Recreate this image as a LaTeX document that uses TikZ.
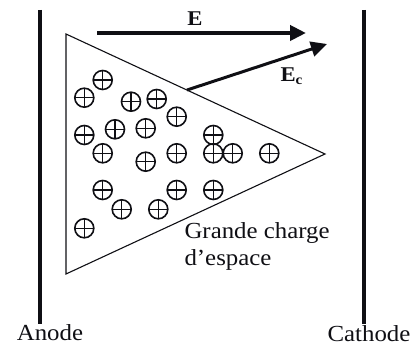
\documentclass[tikz,border=0pt]{standalone}
\usepackage{fontspec}
\setmainfont{Liberation Serif}[FakeStretch=1.08]
\usetikzlibrary{arrows.meta,calc}
\definecolor{ink}{RGB}{15,15,20}

\begin{document}
\begin{tikzpicture}[x=1pt,y=-1pt,line width=1.1pt,
  charge/.style={circle,draw=ink,line width=1.6pt,minimum size=19pt,inner sep=0pt,
    path picture={\draw[ink,line width=1.5pt]
      (path picture bounding box.north) -- (path picture bounding box.south)
      (path picture bounding box.west) -- (path picture bounding box.east);}},
  field/.style={ink,-{Triangle[length=16pt,width=15pt]}},
  lbl/.style={font=\fontsize{23}{27}\selectfont,text=ink,inner sep=0pt}]
  \useasboundingbox (0,0) rectangle (416,347);
  % electrodes
  \draw[ink,line width=4pt] (39.5,10) -- (39.5,324);
  \draw[ink,line width=4pt] (364,10) -- (364,324);
  \node[lbl,anchor=base] (anode) at (50,341) {Anode};
  \node[lbl,anchor=base] (cathode) at (369,342) {Cathode};
  % space charge region
  \coordinate (A) at (66,34);
  \coordinate (B) at (66,274);
  \coordinate (C) at (325,154);
  \draw[ink] (A) -- (C) -- (B) -- cycle;
  \foreach \x/\y [count=\i] in {102.7/80,84.3/97.7,131/101.7,156.7/99,176.7/116.7,
      84.3/135,115/129.3,145.7/128.3,213.3/135,102.7/153.3,145.7/161.7,
      176.7/153.3,213.3/153.3,232.7/153.3,269.3/153.3,102.7/190,121.7/209.3,
      158.3/209.3,176.7/190,213.3/190,84.3/228.3}
    \node[charge] (q\i) at (\x,\y) {};
  \node[lbl,anchor=base west,align=left] (zone) at (184,265.5)
    {Grande charge\\d’espace};
  % fields
  \coordinate (E1) at (97,33);
  \coordinate (E2) at (306,33);
  \draw[field,line width=4pt] (E1) -- (E2);
  \node[lbl,font=\fontsize{21}{25}\selectfont\bfseries,anchor=base] (E) at (195,26) {E};
  \coordinate (Ec1) at ($(A)!0.467!(C)$);
  \coordinate (Ec2) at (327,44);
  \draw[field,line width=3pt] (Ec1) -- (Ec2);
  \node[lbl,font=\fontsize{21}{25}\selectfont\bfseries,anchor=base west] (Ec) at (280,82)
    {E\raisebox{-3pt}{\fontsize{14}{16}\selectfont c}};
\end{tikzpicture}
\end{document}
